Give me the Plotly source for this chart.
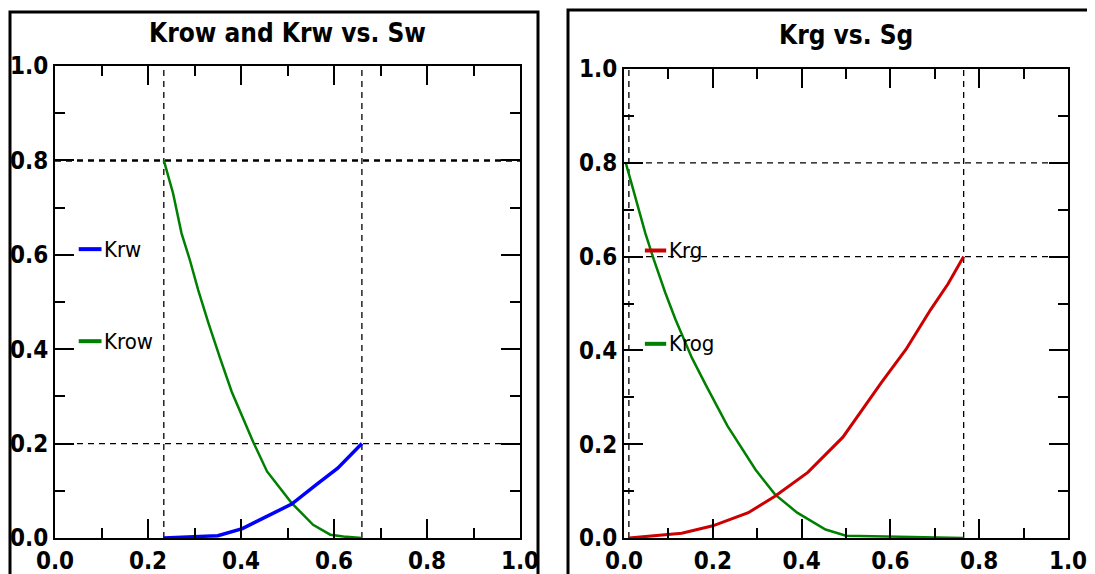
import plotly.graph_objects as go

# ---------------- data ----------------
# Left panel: Krow and Krw vs Sw
sw_ow = [0.234, 0.254, 0.272, 0.290, 0.308, 0.330, 0.355, 0.38, 0.426, 0.456, 0.509, 0.555, 0.592, 0.62, 0.66]
krow = [0.80, 0.73, 0.646, 0.589, 0.525, 0.455, 0.381, 0.31, 0.204, 0.141, 0.074, 0.028, 0.007, 0.003, 0.0]
sw_w = [0.234, 0.30, 0.35, 0.403, 0.456, 0.509, 0.562, 0.608, 0.66]
krw = [0.0, 0.002, 0.005, 0.02, 0.045, 0.072, 0.113, 0.148, 0.2]

# Right panel: Krg and Krog vs Sg
sg_g = [0.011, 0.13, 0.2, 0.28, 0.34, 0.414, 0.493, 0.58, 0.635, 0.69, 0.73, 0.765]
krg = [0.0, 0.01, 0.026, 0.054, 0.089, 0.14, 0.215, 0.332, 0.402, 0.486, 0.542, 0.6]
sg_og = [0.004, 0.0255, 0.048, 0.067, 0.093, 0.116, 0.153, 0.185, 0.233, 0.296, 0.34, 0.39, 0.454, 0.5, 0.765]
krog = [0.8, 0.728, 0.650, 0.594, 0.523, 0.466, 0.384, 0.325, 0.239, 0.146, 0.093, 0.054, 0.018, 0.005, 0.0]

tick_vals = [0.0, 0.2, 0.4, 0.6, 0.8, 1.0]
tick_text = ["0.0", "0.2", "0.4", "0.6", "0.8", "1.0"]
minor_vals = [0.1, 0.3, 0.5, 0.7, 0.9]

titles = ["Krow and Krw vs. Sw", "Krg vs. Sg"]
legend_left = ["Krw", "Krow"]
legend_right = ["Krg", "Krog"]
legend_left_y = [0.612, 0.417]
legend_right_y = [0.613, 0.414]

BLUE = "#0000ff"
GREEN = "#008000"
RED = "#cc0000"

W, H = 1095, 574
OX, OY = 8, 8  # page body margin offset of the embedded figure
COND = "DejaVu Sans Condensed, Liberation Sans Narrow, DejaVu Sans, sans-serif"

fig = go.Figure()
fig.add_trace(go.Scatter(x=sw_ow, y=krow, mode="lines", line=dict(color=GREEN, width=2.5),
                         xaxis="x", yaxis="y", showlegend=False))
fig.add_trace(go.Scatter(x=sw_w, y=krw, mode="lines", line=dict(color=BLUE, width=3.5),
                         xaxis="x", yaxis="y", showlegend=False))
fig.add_trace(go.Scatter(x=sg_og, y=krog, mode="lines", line=dict(color=GREEN, width=2.5),
                         xaxis="x2", yaxis="y2", showlegend=False))
fig.add_trace(go.Scatter(x=sg_g, y=krg, mode="lines", line=dict(color=RED, width=3),
                         xaxis="x2", yaxis="y2", showlegend=False))


def ax(domain, anchor):
    return dict(
        domain=domain, anchor=anchor, range=[0, 1], automargin=False,
        tickmode="array", tickvals=tick_vals, ticktext=tick_text,
        ticks="inside", ticklen=19, tickwidth=2, tickcolor="black",
        showline=True, linecolor="black", linewidth=2, mirror="ticks",
        showgrid=False, zeroline=False, fixedrange=True,
        tickfont=dict(family=COND, size=24, color="black", weight="bold"),
        minor=dict(ticks="inside", ticklen=10, tickwidth=2, tickcolor="black",
                   tickmode="array", tickvals=minor_vals, showgrid=False),
    )


def px_x(p):
    return (p - OX) / W


def px_y(p):
    return 1 - (p - OY) / H


fig.update_layout(
    width=W, height=H,
    margin=dict(l=0, r=0, t=0, b=0, pad=0, autoexpand=False),
    paper_bgcolor="white", plot_bgcolor="white",
    xaxis=ax([px_x(55), px_x(520)], "y"),
    yaxis=ax([px_y(538), px_y(66)], "x"),
    xaxis2=ax([px_x(624), px_x(1068)], "y2"),
    yaxis2=ax([px_y(538), px_y(69)], "x2"),
)

shapes = []
# outer panel frames
shapes.append(dict(type="rect", xref="paper", yref="paper", x0=px_x(10), x1=px_x(538),
                   y0=-0.2, y1=px_y(12), line=dict(color="black", width=3)))
shapes.append(dict(type="rect", xref="paper", yref="paper", x0=px_x(568), x1=px_x(1092),
                   y0=-0.2, y1=px_y(10), line=dict(color="black", width=3)))


def hline(xr, yr, yv, width=1.3):
    return dict(type="line", xref=xr + " domain", yref=yr, x0=0, x1=1, y0=yv, y1=yv,
                line=dict(color="black", width=width, dash="6px,5px"), layer="below")


def vline(xr, yr, xv):
    return dict(type="line", xref=xr, yref=yr + " domain", x0=xv, x1=xv, y0=0, y1=1,
                line=dict(color="black", width=1.3, dash="6px,5px"), layer="below")


# end-point reference lines, from the data
shapes.append(hline("x", "y", krow[0], width=2.5))
shapes.append(hline("x", "y", krw[-1]))
shapes.append(vline("x", "y", sw_ow[0]))
shapes.append(vline("x", "y", sw_ow[-1]))
shapes.append(hline("x2", "y2", krog[0]))
shapes.append(hline("x2", "y2", krg[-1]))
shapes.append(vline("x2", "y2", sg_g[0]))
shapes.append(vline("x2", "y2", sg_g[-1]))

annotations = []
# legends
for name, yv, col in zip(legend_left, legend_left_y, [BLUE, GREEN]):
    shapes.append(dict(type="line", xref="x", yref="y", x0=0.051, x1=0.1, y0=yv, y1=yv,
                       line=dict(color=col, width=4)))
    annotations.append(dict(x=0.102, y=yv, xref="x", yref="y", text=name, showarrow=False,
                            xanchor="left", yanchor="middle",
                            font=dict(family=COND, size=22, color="black")))
for name, yv, col in zip(legend_right, legend_right_y, [RED, GREEN]):
    shapes.append(dict(type="line", xref="x2", yref="y2", x0=0.047, x1=0.095, y0=yv, y1=yv,
                       line=dict(color=col, width=4)))
    annotations.append(dict(x=0.097, y=yv, xref="x2", yref="y2", text=name, showarrow=False,
                            xanchor="left", yanchor="middle",
                            font=dict(family=COND, size=22, color="black")))

# panel titles
annotations.append(dict(x=px_x(287), y=px_y(33), xref="paper", yref="paper", text=titles[0],
                        showarrow=False, xanchor="center", yanchor="middle",
                        font=dict(family=COND, size=26, color="black", weight="bold")))
annotations.append(dict(x=px_x(846), y=px_y(35), xref="paper", yref="paper", text=titles[1],
                        showarrow=False, xanchor="center", yanchor="middle",
                        font=dict(family=COND, size=26, color="black", weight="bold")))

fig.update_layout(shapes=shapes, annotations=annotations)

fig.write_html("out.html")
